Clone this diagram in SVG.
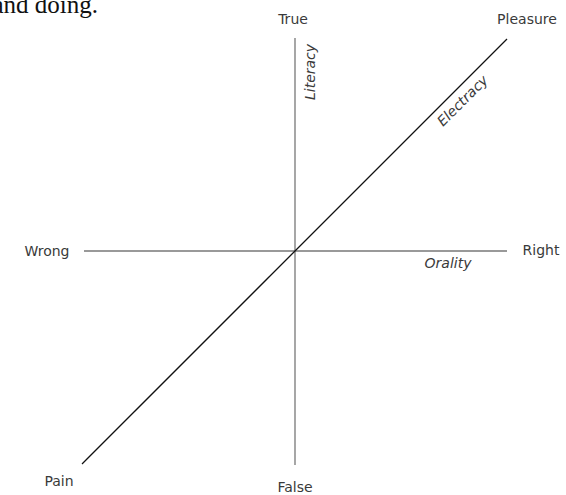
<svg xmlns="http://www.w3.org/2000/svg" width="566" height="495" viewBox="0 0 566 495">
<style>
.lbl{font-family:"DejaVu Sans",sans-serif;font-size:14px;fill:#3a3a3a}
.it{font-family:"DejaVu Sans",sans-serif;font-size:14px;font-style:italic;fill:#3a3a3a}
.axis{stroke:#777;stroke-width:1.3;fill:none}
.diag{stroke:#111;stroke-width:1.3;fill:none}
</style>
<rect width="566" height="495" fill="#fff"/>
<text x="98" y="13" text-anchor="end" style="font-family:'Liberation Serif',serif;font-size:25px;fill:#111">and doing.</text>
<g id="connectors">
<line class="axis" x1="295" y1="38" x2="295" y2="465"/>
<line class="axis" x1="84" y1="251" x2="507" y2="251"/>
<line class="diag" x1="82" y1="464" x2="507" y2="39"/>
</g>
<g id="true"><text class="lbl" x="293" y="24" text-anchor="middle">True</text></g>
<g id="pleasure"><text class="lbl" x="527" y="24" text-anchor="middle">Pleasure</text></g>
<g id="wrong"><text class="lbl" x="47" y="256" text-anchor="middle">Wrong</text></g>
<g id="right"><text class="lbl" x="541" y="255" text-anchor="middle">Right</text></g>
<g id="pain"><text class="lbl" x="59" y="486" text-anchor="middle">Pain</text></g>
<g id="false"><text class="lbl" x="295" y="492" text-anchor="middle">False</text></g>
<g id="literacy"><text class="it" transform="translate(315,72) rotate(-90)" text-anchor="middle">Literacy</text></g>
<g id="electracy"><text class="it" transform="translate(466,104) rotate(-45)" text-anchor="middle">Electracy</text></g>
<g id="orality"><text class="it" x="448" y="268" text-anchor="middle">Orality</text></g>
</svg>
